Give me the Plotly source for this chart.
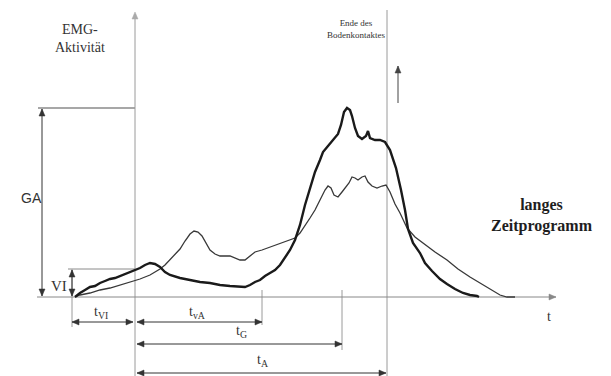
import math
import plotly.graph_objects as go

# Time axis (x) and EMG amplitude (y)
THICK_T = [75, 80, 85, 90, 95, 100, 105, 110, 115, 120, 125, 130, 135, 140, 145, 150, 155, 160, 165, 170,
           180, 190, 200, 210, 220, 230, 240, 245, 250, 255, 260, 265, 270, 275, 280, 285, 290, 295, 300, 305,
           310, 315, 320, 323, 328, 333, 338, 341, 344, 347, 350, 352, 355, 358, 362, 366, 368, 370, 375, 380,
           385, 390, 396, 401, 405, 408, 413, 420, 425, 432, 440, 447, 455, 463, 470, 477, 479]
THICK_A = [0, 4, 7, 10, 11, 14, 16, 18, 19, 21, 23, 25, 27, 29, 32, 34, 33, 30, 25, 22,
           19, 17, 15, 14, 12, 11, 10, 10, 12, 15, 17, 21, 24, 27, 32, 39, 47, 57, 72, 92,
           109, 125, 137, 145, 151, 157, 163, 172, 185, 189, 187, 181, 169, 161, 158, 161, 166, 159, 157, 157,
           155, 147, 129, 107, 87, 68, 54, 44, 34, 26, 18, 13, 8, 4, 2, 1, 0]

THIN_T = [75, 80, 90, 100, 110, 120, 130, 135, 140, 150, 160, 165, 170, 175, 180, 185, 190, 194, 198, 202,
          206, 210, 215, 220, 230, 240, 245, 250, 255, 262, 270, 280, 290, 295, 300, 305, 310, 315, 320, 325,
          328, 331, 334, 338, 342, 345, 349, 352, 355, 358, 362, 365, 368, 372, 377, 382, 386, 390, 395, 400,
          407, 415, 423, 435, 447, 458, 470, 480, 490, 500, 507, 515]
THIN_A = [0, 2, 4, 7, 9, 12, 15, 17, 18, 22, 28, 32, 37, 42, 48, 56, 63, 66, 65, 61,
          54, 47, 43, 41, 41, 37, 37, 41, 45, 47, 50, 54, 57, 59, 64, 71, 79, 87, 97, 107,
          111, 109, 102, 100, 105, 109, 114, 120, 119, 117, 120, 121, 115, 111, 109, 111, 112, 105, 93, 84,
          69, 60, 54, 45, 37, 28, 20, 14, 8, 2, 0, 0]

GA_LEVEL = 189
VI_LEVEL = 28
ONSET_T = 72
AXIS_T = 135
TVA_END = 262
TG_END = 342
TA_END = 387

LINE_GREY = "#9a9a9a"
DARK = "#333333"
SERIF = "Liberation Serif, DejaVu Serif, serif"

fig = go.Figure()
fig.add_trace(go.Scatter(x=THIN_T, y=THIN_A, mode="lines",
                         line=dict(color="#383838", width=1.3), hoverinfo="skip"))
fig.add_trace(go.Scatter(x=THICK_T, y=THICK_A, mode="lines",
                         line=dict(color="#1a1a1a", width=2.4), hoverinfo="skip"))

shapes = []
def seg(x0, y0, x1, y1, color=LINE_GREY, w=1):
    shapes.append(dict(type="line", xref="x", yref="y", x0=x0, y0=y0, x1=x1, y1=y1,
                       line=dict(color=color, width=w), layer="below"))

def head(tx, ty, fx, fy, color=DARK, L=7, W=3):
    # triangle arrowhead with tip at (tx,ty), pointing away from (fx,fy)
    dx, dy = tx - fx, ty - fy
    n = math.hypot(dx, dy)
    dx, dy = dx / n, dy / n
    px, py = -dy, dx
    bx, by = tx - L * dx, ty - L * dy
    path = (f"M {tx},{ty} L {bx + W * px},{by + W * py} "
            f"L {bx - W * px},{by - W * py} Z")
    shapes.append(dict(type="path", xref="x", yref="y", path=path,
                       fillcolor=color, line=dict(color=color, width=0.5)))

def arrow(x0, y0, x1, y1, both=False, color=DARK, w=1):
    seg(x0, y0, x1, y1, color, w)
    head(x1, y1, x0, y0, color)
    if both:
        head(x0, y0, x1, y1, color)

# reference lines
seg(38, GA_LEVEL, AXIS_T, GA_LEVEL, "#8a8a8a", 1.5)
seg(68, VI_LEVEL, AXIS_T, VI_LEVEL, "#8a8a8a", 1)
seg(AXIS_T, -80, AXIS_T, 283)
seg(TA_END, -80, TA_END, 287)
seg(ONSET_T, VI_LEVEL, ONSET_T, -30)
seg(TVA_END, 7, TVA_END, -28)
seg(TG_END, 7, TG_END, -53)

# baseline with arrow (t axis)
arrow(37, 0, 556, 0, color="#888888")
# main vertical axis arrow head
head(AXIS_T, 285, AXIS_T, 200, color="#aaaaaa")
# GA and VI double arrows
arrow(42, 1, 42, GA_LEVEL - 1, both=True)
arrow(72, 1, 72, VI_LEVEL - 1, both=True)
# time spans
arrow(72, -25, 133, -25, both=True)
arrow(137, -25, TVA_END, -25, both=True)
arrow(137, -47, TG_END, -47, both=True)
arrow(137, -76, TA_END - 1, -76, both=True)
# up arrow near end of ground contact
arrow(398, 194, 398, 231, color="#444444")

annotations = []
def label(x, y, text, size=14, family=SERIF, color="#333333", bold=False):
    if bold:
        text = "<b>" + text + "</b>"
    annotations.append(dict(x=x, y=y, xref="x", yref="y", text=text, showarrow=False,
                            font=dict(family=family, size=size, color=color),
                            xanchor="center", yanchor="middle", align="center"))

label(80, 259, "EMG-<br>Aktivität", 14)
label(356, 268, "Ende des<br>Bodenkontaktes", 9)
label(542, 82, "langes<br>Zeitprogramm", 16, color="#1e1e1e", bold=True)
label(31, 99, "GA", 14, family="Liberation Sans, Arial, sans-serif")
label(59, 11, "VI", 15)
label(101, -15, "t<sub>VI</sub>", 14)
label(197, -15, "t<sub>vA</sub>", 14)
label(241, -34, "t<sub>G</sub>", 14)
label(262, -63, "t<sub>A</sub>", 14)
label(549, -19, "t", 14)

fig.update_layout(
    width=611, height=376,
    margin=dict(l=0, r=0, t=0, b=0),
    paper_bgcolor="white", plot_bgcolor="white",
    showlegend=False,
    xaxis=dict(range=[0, 611], visible=False, fixedrange=True),
    yaxis=dict(range=[-79, 297], visible=False, fixedrange=True),
    shapes=shapes, annotations=annotations,
)

fig.write_html("out.html", config={"displayModeBar": False},
               post_script="document.body.style.margin='0';document.body.style.overflow='hidden';")
